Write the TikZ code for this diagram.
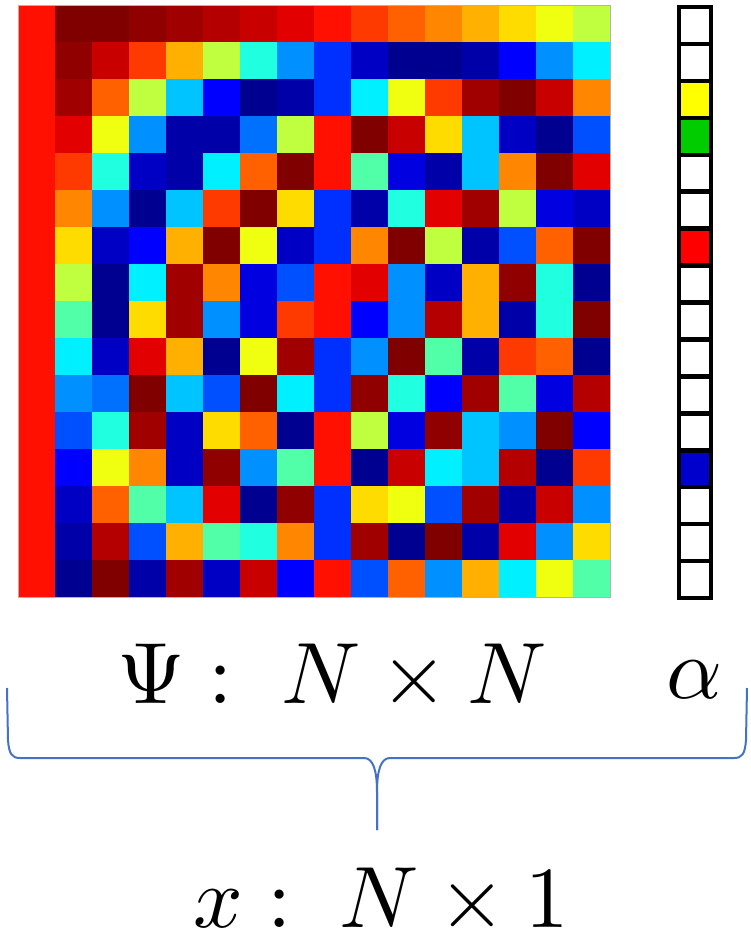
\documentclass[tikz,border=0pt]{standalone}
\usepackage{tikz}
% jet-like palette
\definecolor{jca}{HTML}{800000}
\definecolor{jcb}{HTML}{900000}
\definecolor{jcc}{HTML}{A00000}
\definecolor{jcd}{HTML}{B40000}
\definecolor{jce}{HTML}{C80000}
\definecolor{jcf}{HTML}{E20000}
\definecolor{jcg}{HTML}{FF1000}
\definecolor{jch}{HTML}{FF3A00}
\definecolor{jci}{HTML}{FF6000}
\definecolor{jcj}{HTML}{FF8600}
\definecolor{jck}{HTML}{FFB000}
\definecolor{jcl}{HTML}{FFDC00}
\definecolor{jcm}{HTML}{F0FF10}
\definecolor{jcn}{HTML}{C0FF40}
\definecolor{jco}{HTML}{50FFA8}
\definecolor{jcp}{HTML}{20FFE0}
\definecolor{jcq}{HTML}{00F0FF}
\definecolor{jcr}{HTML}{00C4FF}
\definecolor{jcs}{HTML}{0090FF}
\definecolor{jct}{HTML}{0070FF}
\definecolor{jcu}{HTML}{0050FF}
\definecolor{jcv}{HTML}{0030FF}
\definecolor{jcw}{HTML}{0000FF}
\definecolor{jcx}{HTML}{0000E0}
\definecolor{jcy}{HTML}{0000C4}
\definecolor{jcz}{HTML}{0000A8}
\definecolor{jcA}{HTML}{000090}
\definecolor{bracecol}{HTML}{4472C4}
\definecolor{vyellow}{HTML}{FFFF00}
\definecolor{vgreen}{HTML}{00CC00}
\definecolor{vred}{HTML}{FF0000}
\definecolor{vblue}{HTML}{0000CC}
\tikzset{
  mathlabel/.style={scale=8.7, anchor=base, inner sep=0pt},
  bracestyle/.style={draw=bracecol, line width=2pt, line join=round},
  vecline/.style={draw=black, line width=4.5pt},
}
\begin{document}
\begin{tikzpicture}[x=1pt,y=-1pt]
\fill[white] (0,0) rectangle (751,940);
\useasboundingbox (0,0) rectangle (751,940);
% matrix Psi
\foreach \row [count=\i from 0] in {
 {g,a,a,b,c,d,e,f,g,h,i,j,k,l,m,n},
 {g,b,e,h,k,n,p,s,v,y,A,A,z,w,s,q},
 {g,c,i,n,r,w,A,z,v,q,m,h,c,a,e,j},
 {g,f,m,s,z,z,t,n,g,a,e,l,r,y,A,u},
 {g,h,p,y,z,q,i,a,g,o,x,z,r,j,a,f},
 {g,j,s,A,r,h,a,l,v,z,p,f,c,n,x,y},
 {g,l,y,w,k,a,m,y,v,j,a,n,z,u,i,a},
 {g,n,A,q,c,j,x,u,g,f,s,y,k,b,p,A},
 {g,o,A,l,c,s,x,h,g,w,s,d,k,z,p,a},
 {g,q,y,f,k,A,m,c,v,s,a,o,z,h,i,A},
 {g,s,t,a,r,u,a,q,v,b,p,w,c,o,x,d},
 {g,u,p,c,y,l,i,A,g,n,x,b,r,s,a,w},
 {g,w,m,j,y,b,s,o,g,A,e,q,r,d,A,h},
 {g,y,i,o,r,f,A,b,v,l,m,u,c,z,e,s},
 {g,z,d,u,k,o,p,j,v,c,A,a,z,f,s,l},
 {g,A,a,z,c,y,e,w,g,u,i,s,k,q,m,o}}{
  \foreach \c [count=\j from 0] in \row {
    \fill[jc\c] ({18+37*\j},{5+37*\i}) rectangle ++(37.5,37.5);
  }
}
\draw[gray!60, line width=1pt] (18,5) rectangle (610,597);
% alpha vector
\def\vh{36.94}
\foreach \k/\col in {2/vyellow,3/vgreen,6/vred,12/vblue}{
  \fill[\col] (679,{7+\vh*\k}) rectangle (711,{7+\vh*(\k+1)});
}
\foreach \k in {1,...,15}{
  \draw[vecline] (679,{7+\vh*\k}) -- (711,{7+\vh*\k});
}
\draw[vecline] (679,7) rectangle (711,598);
% labels
\node[mathlabel] (psi) at (332,703) {$\Psi :\; N\times N$};
\node[mathlabel] (alpha) at (694,698) {$\alpha$};
\node[mathlabel] (xlab) at (381,927) {$x :\; N\times 1$};
% brace
\coordinate (bl) at (7,688);
\coordinate (br) at (747,688);
\coordinate (tip) at (377,830);
\draw[bracestyle] (bl) -- (8,740) .. controls (9,754) and (12,758) .. (20,758)
  -- (364,758) .. controls (373,758) and (377,770) .. (377,792) -- (tip);
\draw[bracestyle] (br) -- (746,740) .. controls (745,754) and (742,758) .. (734,758)
  -- (390,758) .. controls (381,758) and (377,770) .. (377,792) -- (tip);
\end{tikzpicture}
\end{document}
